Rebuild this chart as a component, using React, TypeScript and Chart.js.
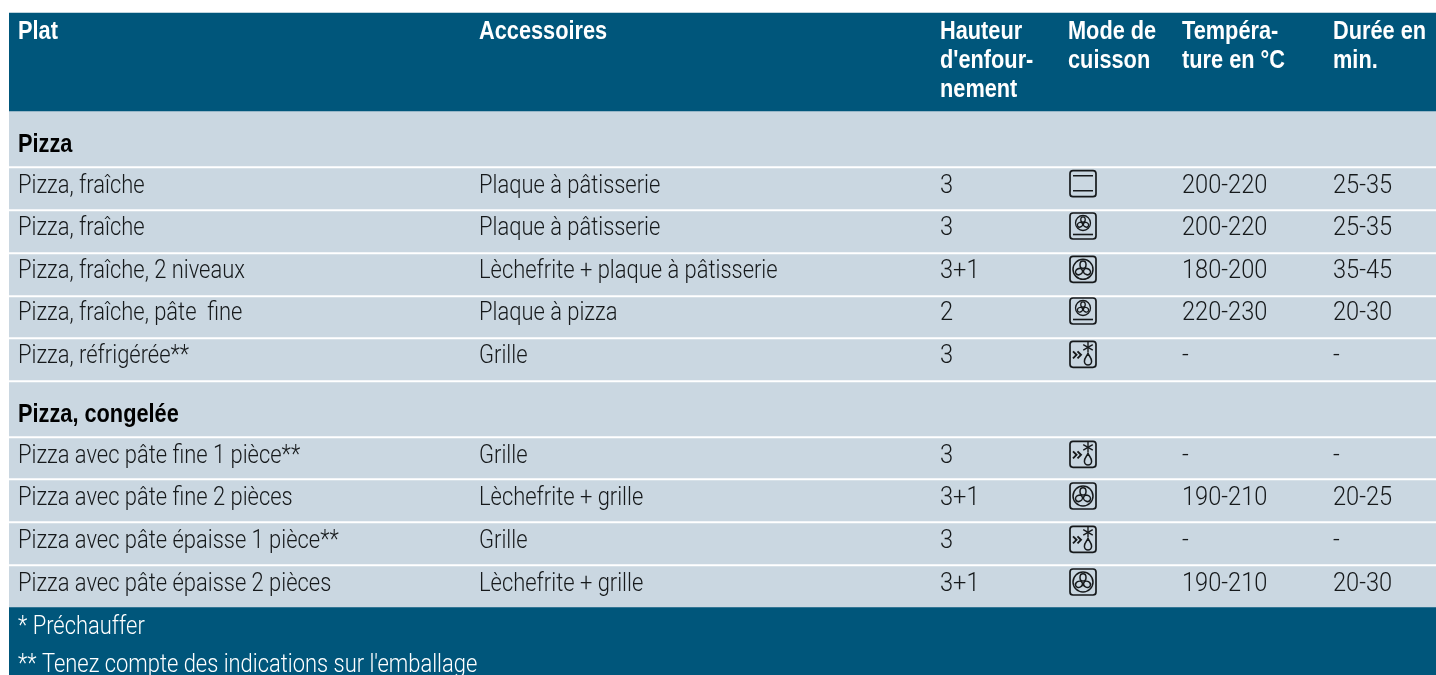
import React, { useEffect, useRef } from "react";
import { Chart, registerables } from "chart.js";

Chart.register(...registerables);

const headers = [
  ["Plat"],
  ["Accessoires"],
  ["Hauteur", "d'enfour-", "nement"],
  ["Mode de", "cuisson"],
  ["Tempéra-", "ture en °C"],
  ["Durée en", "min."],
];
const sectionA = "Pizza";
const sectionB = "Pizza, congelée";
const dishes = [
  "Pizza, fraîche", "Pizza, fraîche", "Pizza, fraîche, 2 niveaux", "Pizza, fraîche, pâte  fine", "Pizza, réfrigérée**",
  "Pizza avec pâte fine 1 pièce**", "Pizza avec pâte fine 2 pièces", "Pizza avec pâte épaisse 1 pièce**", "Pizza avec pâte épaisse 2 pièces",
];
const accessories = [
  "Plaque à pâtisserie", "Plaque à pâtisserie", "Lèchefrite + plaque à pâtisserie", "Plaque à pizza", "Grille",
  "Grille", "Lèchefrite + grille", "Grille", "Lèchefrite + grille",
];
const levels = ["3", "3", "3+1", "2", "3", "3", "3+1", "3", "3+1"];
const modes = ["bars", "fanLow", "fan", "fanLow", "defrost", "defrost", "fan", "defrost", "fan"];
const temperatures = ["200-220", "200-220", "180-200", "220-230", "-", "-", "190-210", "-", "190-210"];
const durations = ["25-35", "25-35", "35-45", "20-30", "-", "-", "20-25", "-", "20-30"];
const footnotes = ["* Préchauffer", "** Tenez compte des indications sur l'emballage"];

const DARK = "#00567b";
const LIGHT = "#cad7e1";
const WHITE = "#ffffff";
const INK = "#16191b";

// Vertical layout of the table bands, stacked from the top of the canvas.
const SEP = 2;
const bands: [string, number][] = [
  ["top", 13], ["header", 98],
  ["section", 55], ["sep", SEP],
  ["row", 41], ["sep", SEP], ["row", 41], ["sep", SEP], ["row", 41], ["sep", SEP], ["row", 40], ["sep", SEP], ["row", 41], ["sep", SEP],
  ["section", 54], ["sep", SEP],
  ["row", 40], ["sep", SEP], ["row", 41], ["sep", SEP], ["row", 41], ["sep", SEP], ["row", 41],
  ["footer", 68],
];
const rowBaselines = [24.7, 24, 24.3, 23, 24.3, 25.3, 25, 25.3, 25];
const sectionBaselines = [40.7, 39.7];
const footerBaselines = [27.3, 64.7];
const bandColor: Record<string, string> = { top: "rgba(0,0,0,0)", header: DARK, section: LIGHT, sep: WHITE, row: LIGHT, footer: DARK };
const columns = [9, 470, 931, 1059, 1173, 1324];

const LIGHTFONT = "300 25px Roboto, 'Liberation Sans', sans-serif";
const BOLDFONT = "bold 25px 'Liberation Sans', Roboto, sans-serif";
const LIGHT_SX = 0.877;
const NUM_SX = 0.945;
const BOLD_SX = 0.87;

function txt(ctx: CanvasRenderingContext2D, s: string, x: number, y: number, font: string, sx: number, color: string) {
  ctx.save();
  ctx.translate(x, y);
  ctx.scale(sx, 1);
  ctx.font = font;
  ctx.fillStyle = color;
  ctx.textBaseline = "alphabetic";
  ctx.textAlign = "left";
  ctx.fillText(s, 0, 0);
  ctx.restore();
}

function fanShape(ctx: CanvasRenderingContext2D, cx: number, cy: number, r: number) {
  ctx.beginPath();
  ctx.arc(cx, cy, r, 0, Math.PI * 2);
  ctx.stroke();
  for (let k = 0; k < 3; k++) {
    const a = -Math.PI / 2 + (k * 2 * Math.PI) / 3;
    ctx.beginPath();
    const px = cx + Math.cos(a) * r * 0.46;
    const py = cy + Math.sin(a) * r * 0.46;
    ctx.ellipse(px, py, r * 0.36, r * 0.3, a, 0, Math.PI * 2);
    ctx.stroke();
  }
}

function modeIcon(ctx: CanvasRenderingContext2D, kind: string, x: number, cy: number) {
  const w = 26, h = 26;
  const cx = x + w / 2;
  const top = cy - h / 2;
  ctx.save();
  ctx.strokeStyle = INK;
  ctx.fillStyle = INK;
  ctx.lineWidth = 1.7;
  ctx.beginPath();
  ctx.roundRect(x, top, w, h, 3);
  ctx.stroke();
  ctx.lineWidth = 1.5;
  if (kind === "bars") {
    ctx.beginPath();
    ctx.moveTo(x + 3, top + 5); ctx.lineTo(x + w - 3, top + 5);
    ctx.moveTo(x + 3, top + 20); ctx.lineTo(x + w - 3, top + 20);
    ctx.stroke();
  } else if (kind === "fanLow") {
    ctx.lineWidth = 1.3;
    fanShape(ctx, cx, top + 10, 7.5);
    ctx.lineWidth = 1.6;
    ctx.beginPath();
    ctx.moveTo(x + 3, top + 21.5); ctx.lineTo(x + w - 3, top + 21.5);
    ctx.stroke();
  } else if (kind === "fan") {
    ctx.lineWidth = 1.5;
    fanShape(ctx, cx, cy, 10);
  } else {
    ctx.lineWidth = 1.9;
    for (const dx of [0, 4.5]) {
      ctx.beginPath();
      ctx.moveTo(x + 3 + dx, top + 10); ctx.lineTo(x + 6.5 + dx, top + 13.5); ctx.lineTo(x + 3 + dx, top + 17);
      ctx.stroke();
    }
    const sx = x + 18, sy = top + 6;
    ctx.lineWidth = 1.4;
    for (let k = 0; k < 3; k++) {
      const a = (k * Math.PI) / 3 + Math.PI / 2;
      ctx.beginPath();
      ctx.moveTo(sx - Math.cos(a) * 5.5, sy - Math.sin(a) * 5.5);
      ctx.lineTo(sx + Math.cos(a) * 5.5, sy + Math.sin(a) * 5.5);
      ctx.stroke();
    }
    ctx.lineWidth = 1.5;
    ctx.beginPath();
    ctx.moveTo(sx, top + 12);
    ctx.bezierCurveTo(sx + 1, top + 15, sx + 4, top + 17, sx + 3.6, top + 20);
    ctx.arc(sx, top + 20, 3.6, 0, Math.PI);
    ctx.bezierCurveTo(sx - 4, top + 17, sx - 1, top + 15, sx, top + 12);
    ctx.stroke();
  }
  ctx.restore();
}

const tablePlugin = {
  id: "tableText",
  afterDatasetsDraw(chart: any) {
    const { ctx, scales } = chart;
    const X = (c: number) => scales.xText.getPixelForValue(columns[c]);
    const Y = (v: number) => scales.y.getPixelForValue(v);
    // Band tops come from the stacked bars themselves.
    let acc = 0;
    const tops: Record<string, number[]> = {};
    bands.forEach(([k, h]) => {
      (tops[k] = tops[k] || []).push(acc);
      acc += h;
    });
    const headerTop = tops.header[0];
    headers.forEach((lines, c) =>
      lines.forEach((l, i) => txt(ctx, l, X(c), Y(headerTop + 26 + i * 29), BOLDFONT, BOLD_SX, WHITE))
    );
    [sectionA, sectionB].forEach((s, i) => txt(ctx, s, X(0), Y(tops.section[i] + sectionBaselines[i]), BOLDFONT, BOLD_SX, "#000"));
    dishes.forEach((d, i) => {
      const b = Y(tops.row[i] + rowBaselines[i]);
      txt(ctx, d, X(0), b, LIGHTFONT, LIGHT_SX, INK);
      txt(ctx, accessories[i], X(1), b, LIGHTFONT, LIGHT_SX, INK);
      txt(ctx, levels[i], X(2), b, LIGHTFONT, NUM_SX, INK);
      modeIcon(ctx, modes[i], X(3) + 2, b - 9);
      txt(ctx, temperatures[i], X(4), b, LIGHTFONT, NUM_SX, INK);
      txt(ctx, durations[i], X(5), b, LIGHTFONT, NUM_SX, INK);
    });
    footnotes.forEach((f, i) => txt(ctx, f, X(0), Y(tops.footer[0] + footerBaselines[i]), LIGHTFONT, LIGHT_SX, "#ffffff"));
  },
};

export default function App() {
  const ref = useRef<HTMLCanvasElement>(null);
  useEffect(() => {
    document.body.style.margin = "0";
    const chart = new Chart(ref.current!, {
      type: "bar",
      data: {
        labels: ["table"],
        datasets: bands.map(([k, h]) => ({
          label: k,
          data: [h],
          backgroundColor: bandColor[k],
          borderWidth: 0,
          barPercentage: 1,
          categoryPercentage: 1,
          xAxisID: "x",
          yAxisID: "y",
        })),
      },
      options: {
        animation: false,
        responsive: false,
        maintainAspectRatio: false,
        layout: { padding: { left: 9, right: 0, top: 0, bottom: 0 } },
        plugins: { legend: { display: false }, tooltip: { enabled: false }, title: { display: false } },
        scales: {
          x: { stacked: true, display: false },
          xText: { type: "linear", display: false, min: 0, max: 1427, axis: "x", position: "top", offset: false },
          y: { stacked: true, display: false, reverse: true, min: 0, max: 675 },
        },
      },
      plugins: [tablePlugin],
    } as any);
    return () => chart.destroy();
  }, []);
  return <canvas ref={ref} width={1436} height={675} style={{ display: "block", width: 1436, height: 675 }} />;
}
